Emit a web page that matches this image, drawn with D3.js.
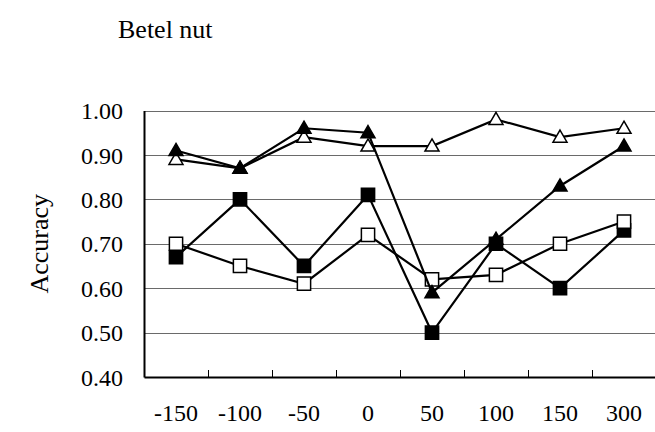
<!DOCTYPE html>
<html>
<head>
<meta charset="utf-8">
<script src="https://cdn.jsdelivr.net/npm/d3@7/dist/d3.min.js"></script>
<style>
  html, body { margin: 0; padding: 0; background: #fff; }
  svg { display: block; }
</style>
</head>
<body>
<svg id="chart" width="655" height="432"></svg>
<script>
// Offsets (x) and accuracy of the four runs
const offsets = ["-150", "-100", "-50", "0", "50", "100", "150", "300"];
const filledSquare   = [0.67, 0.80, 0.65, 0.81, 0.50, 0.70, 0.60, 0.73];
const openSquare     = [0.70, 0.65, 0.61, 0.72, 0.62, 0.63, 0.70, 0.75];
const openTriangle   = [0.89, 0.87, 0.94, 0.92, 0.92, 0.98, 0.94, 0.96];
const filledTriangle = [0.91, 0.87, 0.96, 0.95, 0.59, 0.71, 0.83, 0.92];
const yTicks = [0.40, 0.50, 0.60, 0.70, 0.80, 0.90, 1.00];

const FONT = "'Liberation Serif', 'Times New Roman', Times, serif";
const svg = d3.select("#chart");
const m = { left: 144, right: 656, top: 110.5, bottom: 377 };

const x = d3.scaleBand().domain(offsets).range([m.left, m.right]).padding(0);
const y = d3.scaleLinear().domain([0.40, 1.00]).range([m.bottom, m.top]);

// Horizontal gridlines (including the 1.00 top edge)
svg.append("g")
  .selectAll("line")
  .data(yTicks.filter(t => t > 0.40))
  .join("line")
  .attr("x1", m.left).attr("x2", m.right)
  .attr("y1", d => Math.round(y(d)) + 0.5).attr("y2", d => Math.round(y(d)) + 0.5)
  .attr("stroke", "#6a6a6a").attr("stroke-width", 1.2);

// Left axis with labels
const yAxis = d3.axisLeft(y).tickValues(yTicks).tickFormat(d3.format(".2f")).tickSize(0).tickPadding(21);
const gy = svg.append("g").attr("transform", `translate(${m.left},0)`).call(yAxis)
  .attr("font-family", FONT);
gy.select(".domain").attr("stroke", "#000").attr("stroke-width", 2);
gy.selectAll("text").style("font-family", FONT).style("font-size", "24px").attr("fill", "#000").attr("dy", "0.34em");

// Bottom axis: ticks at category boundaries pointing inward, labels at centres
const boundaries = offsets.map(o => x(o)).slice(1);
svg.append("g").selectAll("line").data(boundaries).join("line")
  .attr("x1", d => Math.round(d) + 0.5).attr("x2", d => Math.round(d) + 0.5)
  .attr("y1", m.bottom).attr("y2", m.bottom - 7)
  .attr("stroke", "#000").attr("stroke-width", 1);

const xAxis = d3.axisBottom(x).tickSize(0).tickPadding(27);
const gx = svg.append("g").attr("transform", `translate(0,${m.bottom})`).call(xAxis)
  .attr("font-family", FONT);
gx.select(".domain").attr("stroke", "#000").attr("stroke-width", 2);
gx.selectAll("text").style("font-family", FONT).style("font-size", "24px").attr("fill", "#000");

// Series: lines with markers
const cx = d => x(d) + x.bandwidth() / 2;
const line = d3.line().x((d, i) => cx(offsets[i])).y(d => y(d));

const series = [
  { values: filledSquare,   shape: "square",   fill: "#000" },
  { values: openSquare,     shape: "square",   fill: "#fff" },
  { values: openTriangle,   shape: "triangle", fill: "#fff" },
  { values: filledTriangle, shape: "triangle", fill: "#000" }
];

const sq = d3.symbol().type(d3.symbolSquare).size(175);
const tri = d3.symbol().type(d3.symbolTriangle).size(85);

series.forEach(s => {
  const g = svg.append("g");
  g.append("path").datum(s.values)
    .attr("d", line).attr("fill", "none")
    .attr("stroke", "#000").attr("stroke-width", 2.2);
  g.selectAll("path.mk").data(s.values).join("path")
    .attr("class", "mk")
    .attr("d", s.shape === "square" ? sq : tri)
    .attr("transform", (d, i) => `translate(${cx(offsets[i])},${y(d) + (s.shape === "triangle" ? 1 : 0)})`)
    .attr("fill", s.fill).attr("stroke", "#000").attr("stroke-width", 1.5);
});

// Title and axis title
svg.append("text").attr("x", 118).attr("y", 38)
  .style("font-family", FONT).style("font-size", "26px").text("Betel nut");
svg.append("text")
  .attr("transform", `translate(48,${(m.top + m.bottom) / 2}) rotate(-90)`)
  .attr("text-anchor", "middle")
  .style("font-family", FONT).style("font-size", "26px").text("Accuracy");
</script>
</body>
</html>
